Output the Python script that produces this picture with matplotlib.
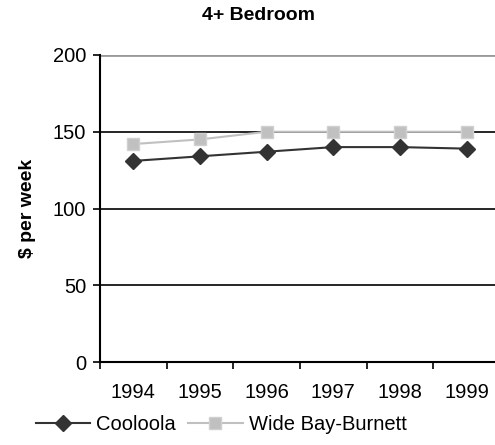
import numpy as np
import matplotlib.pyplot as plt

plt.rcParams['font.family'] = ['Liberation Sans', 'DejaVu Sans']

years = ['1994', '1995', '1996', '1997', '1998', '1999']
cooloola = [131, 134, 137, 140, 140, 139]
wide_bay = [142, 145, 150, 150, 150, 150]
y_ticks = [0, 50, 100, 150, 200]

fig = plt.figure(figsize=(4.95, 4.45), dpi=100)
ax = fig.add_axes([100 / 495, 1 - 362 / 445, 400 / 495, 307 / 445])

x = np.arange(len(years)) + 0.5
ax.plot(x, cooloola, color='#333333', lw=1.5, marker='D', ms=8.5,
        mfc='#333333', mec='#333333', label='Cooloola', zorder=4)
ax.plot(x, wide_bay, color='#c0c0c0', lw=1.5, marker='s', ms=8.5,
        mfc='#c0c0c0', mec='#d0d0d0', label='Wide Bay-Burnett', zorder=3)

ax.set_xlim(0, len(years))
ax.set_ylim(0, 200)
ax.set_xticks(x)
ax.set_xticklabels(years, fontsize=14.5)
ax.set_xticks(np.arange(len(years) + 1), minor=True)
ax.tick_params(axis='x', which='major', length=0, pad=15)
ax.tick_params(axis='x', which='minor', length=5, width=1.2, direction='out')
ax.set_yticks(y_ticks)
ax.tick_params(axis='y', labelsize=14.5, length=5, width=1.2, direction='out', pad=5)

ax.yaxis.grid(True, color='black', lw=1.2)
ax.get_ygridlines()[-1].set_color('#999999')
ax.get_ygridlines()[-1].set_linewidth(2)
ax.set_axisbelow(True)

for s in ['top', 'right']:
    ax.spines[s].set_visible(False)
for s in ['left', 'bottom']:
    ax.spines[s].set_linewidth(1.5)

ax.set_ylabel('$ per week', fontsize=14, fontweight='bold', labelpad=12)
fig.text(258 / 495, 1 - 16 / 445, '4+ Bedroom', fontsize=14, fontweight='bold',
         ha='center', va='center')

fig.legend(loc='center left', bbox_to_anchor=(36 / 495, 1 - 425 / 445), ncol=2,
           frameon=False, fontsize=14.5, handlelength=2.7, handletextpad=0.3,
           columnspacing=0.6, borderaxespad=0, borderpad=0)

fig.savefig('out.png', dpi=100)
